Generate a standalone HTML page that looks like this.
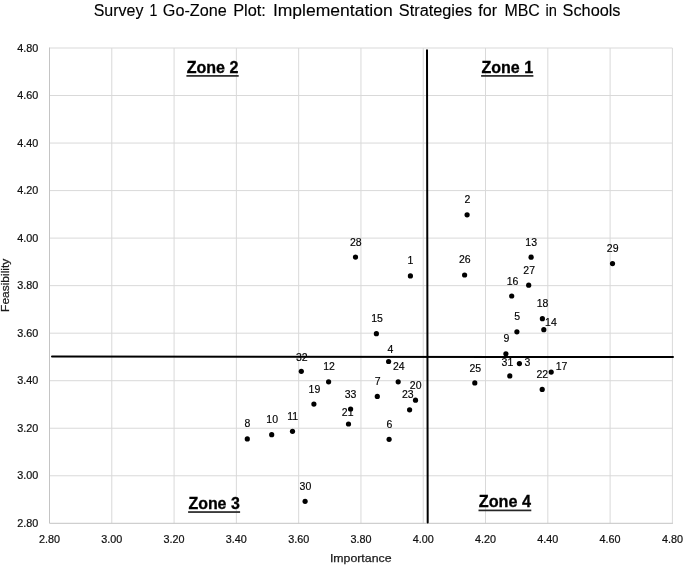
<!DOCTYPE html>
<html><head><meta charset="utf-8"><style>
html,body{margin:0;padding:0;background:#fff;}
body{width:685px;height:565px;overflow:hidden;}
svg{display:block;will-change:transform;font-family:"Liberation Sans",sans-serif;}
</style></head><body>
<svg width="685" height="565" viewBox="0 0 685 565">
<rect x="0" y="0" width="685" height="565" fill="#fff"/>
<g stroke="#d9d9d9" stroke-width="1" fill="none"><line x1="111.79" y1="48.00" x2="111.79" y2="523.30"/><line x1="174.08" y1="48.00" x2="174.08" y2="523.30"/><line x1="236.37" y1="48.00" x2="236.37" y2="523.30"/><line x1="298.66" y1="48.00" x2="298.66" y2="523.30"/><line x1="360.95" y1="48.00" x2="360.95" y2="523.30"/><line x1="423.24" y1="48.00" x2="423.24" y2="523.30"/><line x1="485.53" y1="48.00" x2="485.53" y2="523.30"/><line x1="547.82" y1="48.00" x2="547.82" y2="523.30"/><line x1="610.11" y1="48.00" x2="610.11" y2="523.30"/><line x1="672.40" y1="48.00" x2="672.40" y2="523.30"/><line x1="49.50" y1="48.00" x2="672.40" y2="48.00"/><line x1="49.50" y1="95.53" x2="672.40" y2="95.53"/><line x1="49.50" y1="143.06" x2="672.40" y2="143.06"/><line x1="49.50" y1="190.59" x2="672.40" y2="190.59"/><line x1="49.50" y1="238.12" x2="672.40" y2="238.12"/><line x1="49.50" y1="285.65" x2="672.40" y2="285.65"/><line x1="49.50" y1="333.18" x2="672.40" y2="333.18"/><line x1="49.50" y1="380.71" x2="672.40" y2="380.71"/><line x1="49.50" y1="428.24" x2="672.40" y2="428.24"/><line x1="49.50" y1="475.77" x2="672.40" y2="475.77"/></g>
<path d="M49.50 47.50V523.30H672.90" stroke="#c4c4c4" stroke-width="1" fill="none"/>
<g font-size="10.8" fill="#111" stroke="#111" stroke-width="0.22"><text x="38.2" y="51.70" text-anchor="end">4.80</text><text x="38.2" y="99.23" text-anchor="end">4.60</text><text x="38.2" y="146.76" text-anchor="end">4.40</text><text x="38.2" y="194.29" text-anchor="end">4.20</text><text x="38.2" y="241.82" text-anchor="end">4.00</text><text x="38.2" y="289.35" text-anchor="end">3.80</text><text x="38.2" y="336.88" text-anchor="end">3.60</text><text x="38.2" y="384.41" text-anchor="end">3.40</text><text x="38.2" y="431.94" text-anchor="end">3.20</text><text x="38.2" y="479.47" text-anchor="end">3.00</text><text x="38.2" y="527.00" text-anchor="end">2.80</text><text x="49.50" y="542.6" text-anchor="middle">2.80</text><text x="111.79" y="542.6" text-anchor="middle">3.00</text><text x="174.08" y="542.6" text-anchor="middle">3.20</text><text x="236.37" y="542.6" text-anchor="middle">3.40</text><text x="298.66" y="542.6" text-anchor="middle">3.60</text><text x="360.95" y="542.6" text-anchor="middle">3.80</text><text x="423.24" y="542.6" text-anchor="middle">4.00</text><text x="485.53" y="542.6" text-anchor="middle">4.20</text><text x="547.82" y="542.6" text-anchor="middle">4.40</text><text x="610.11" y="542.6" text-anchor="middle">4.60</text><text x="672.40" y="542.6" text-anchor="middle">4.80</text></g>
<g stroke="#000" stroke-width="2" stroke-linecap="round"><line x1="52" y1="356.5" x2="673" y2="357.1"/><line x1="427.0" y1="50.2" x2="427.7" y2="522.5"/></g>
<g fill="#000"><circle cx="410.4" cy="275.9" r="2.6"/><circle cx="467.1" cy="214.8" r="2.6"/><circle cx="519.4" cy="363.6" r="2.6"/><circle cx="388.6" cy="361.5" r="2.6"/><circle cx="516.9" cy="331.8" r="2.6"/><circle cx="389.1" cy="439.3" r="2.6"/><circle cx="377.3" cy="396.4" r="2.6"/><circle cx="247.3" cy="438.9" r="2.6"/><circle cx="505.9" cy="353.8" r="2.6"/><circle cx="271.7" cy="434.7" r="2.6"/><circle cx="292.5" cy="431.3" r="2.6"/><circle cx="328.6" cy="381.8" r="2.6"/><circle cx="531.1" cy="257.2" r="2.6"/><circle cx="543.8" cy="329.7" r="2.6"/><circle cx="376.4" cy="333.7" r="2.6"/><circle cx="511.7" cy="296.0" r="2.6"/><circle cx="551.2" cy="372.1" r="2.6"/><circle cx="542.4" cy="318.7" r="2.6"/><circle cx="313.9" cy="404.1" r="2.6"/><circle cx="415.5" cy="400.2" r="2.6"/><circle cx="348.5" cy="424.0" r="2.6"/><circle cx="542.2" cy="389.4" r="2.6"/><circle cx="409.6" cy="409.8" r="2.6"/><circle cx="398.2" cy="381.8" r="2.6"/><circle cx="474.8" cy="382.9" r="2.6"/><circle cx="464.6" cy="275.0" r="2.6"/><circle cx="528.7" cy="285.2" r="2.6"/><circle cx="355.5" cy="257.1" r="2.6"/><circle cx="612.5" cy="263.6" r="2.6"/><circle cx="305.1" cy="501.3" r="2.6"/><circle cx="509.8" cy="375.9" r="2.6"/><circle cx="301.3" cy="371.3" r="2.6"/><circle cx="350.6" cy="409.0" r="2.6"/></g>
<g font-size="10.5" fill="#000" stroke="#000" stroke-width="0.15" text-anchor="middle"><text x="410.4" y="263.85">1</text><text x="467.4" y="203.25">2</text><text x="527.5" y="365.75">3</text><text x="390.5" y="353.35">4</text><text x="517.2" y="320.15">5</text><text x="389.3" y="427.65">6</text><text x="377.7" y="384.55">7</text><text x="247.3" y="427.45">8</text><text x="506.3" y="342.05">9</text><text x="272.2" y="423.15">10</text><text x="292.6" y="419.95">11</text><text x="329.0" y="369.95">12</text><text x="531.2" y="245.65">13</text><text x="550.9" y="325.85">14</text><text x="377.0" y="322.15">15</text><text x="512.5" y="284.55">16</text><text x="561.5" y="370.15">17</text><text x="542.6" y="306.95">18</text><text x="314.4" y="392.65">19</text><text x="415.7" y="388.55">20</text><text x="347.7" y="415.95">21</text><text x="542.3" y="378.35">22</text><text x="407.8" y="398.45">23</text><text x="398.8" y="370.05">24</text><text x="475.3" y="371.75">25</text><text x="464.8" y="262.95">26</text><text x="529.2" y="273.55">27</text><text x="355.8" y="245.55">28</text><text x="612.7" y="252.15">29</text><text x="305.4" y="490.25">30</text><text x="507.4" y="365.55">31</text><text x="301.8" y="360.85">32</text><text x="350.6" y="397.75">33</text></g>
<g font-size="16" font-weight="bold" fill="#000" stroke="#000" stroke-width="0.3"><text x="186.7" y="73.0" textLength="51.7" lengthAdjust="spacingAndGlyphs">Zone 2</text><rect x="186.4" y="75.05" width="52.3" height="1.7" fill="#262626" stroke="none"/><text x="481.4" y="73.0" textLength="51.7" lengthAdjust="spacingAndGlyphs">Zone 1</text><rect x="481.1" y="75.05" width="52.3" height="1.7" fill="#262626" stroke="none"/><text x="188.4" y="509.4" textLength="51.4" lengthAdjust="spacingAndGlyphs">Zone 3</text><rect x="188.1" y="511.20" width="52.0" height="1.7" fill="#262626" stroke="none"/><text x="478.8" y="507.4" textLength="52.2" lengthAdjust="spacingAndGlyphs">Zone 4</text><rect x="478.5" y="509.55" width="52.8" height="1.7" fill="#262626" stroke="none"/></g>
<g font-size="16" fill="#000" stroke="#000" stroke-width="0.12" lengthAdjust="spacingAndGlyphs"><text y="15.7" lengthAdjust="spacingAndGlyphs" x="93.70" textLength="49.70">Survey</text><text y="15.7" lengthAdjust="spacingAndGlyphs" x="149.60" textLength="7.90">1</text><text y="15.7" lengthAdjust="spacingAndGlyphs" x="162.80" textLength="63.90">Go-Zone</text><text y="15.7" lengthAdjust="spacingAndGlyphs" x="233.20" textLength="32.70">Plot:</text><text y="15.7" lengthAdjust="spacingAndGlyphs" x="272.90" textLength="119.80">Implementation</text><text y="15.7" lengthAdjust="spacingAndGlyphs" x="398.80" textLength="73.40">Strategies</text><text y="15.7" lengthAdjust="spacingAndGlyphs" x="478.30" textLength="18.70">for</text><text y="15.7" lengthAdjust="spacingAndGlyphs" x="504.40" textLength="35.40">MBC</text><text y="15.7" lengthAdjust="spacingAndGlyphs" x="545.50" textLength="11.40">in</text><text y="15.7" lengthAdjust="spacingAndGlyphs" x="562.60" textLength="57.90">Schools</text></g>
<text x="329.9" y="562.2" font-size="11.6" fill="#1a1a1a" stroke="#1a1a1a" stroke-width="0.25" textLength="61.6" lengthAdjust="spacingAndGlyphs">Importance</text>
<text transform="translate(9,311.9) rotate(-90)" x="0" y="0" font-size="11.6" fill="#1a1a1a" stroke="#1a1a1a" stroke-width="0.25" textLength="53.2" lengthAdjust="spacingAndGlyphs">Feasibility</text>
</svg></body></html>
